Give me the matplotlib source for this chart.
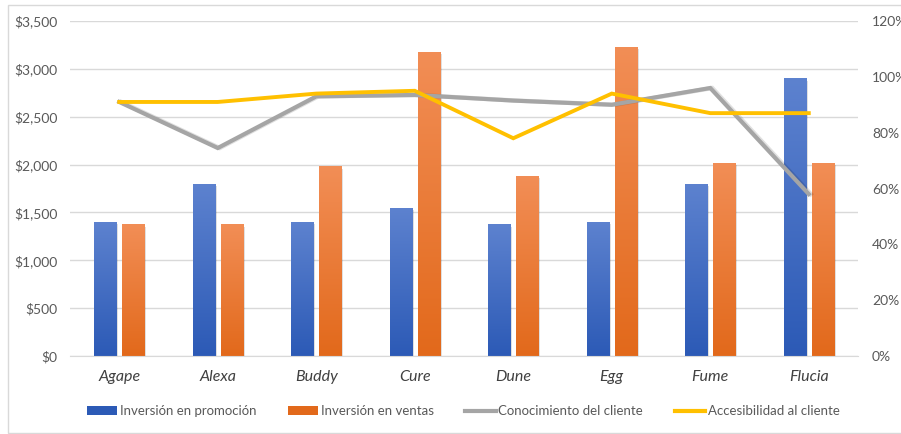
import numpy as np
import matplotlib
matplotlib.use("Agg")
from matplotlib import pyplot as plt
from matplotlib.colors import LinearSegmentedColormap
from matplotlib.lines import Line2D
from matplotlib.patches import Patch

plt.rcParams['font.family'] = ['Lato', 'DejaVu Sans']

categories = ['Agape', 'Alexa', 'Buddy', 'Cure', 'Dune', 'Egg', 'Fume', 'Flucia']
promocion = [1400, 1800, 1400, 1550, 1375, 1400, 1800, 2900]
ventas = [1375, 1375, 1980, 3180, 1880, 3230, 2020, 2020]
conocimiento = [0.91, 0.745, 0.93, 0.935, 0.915, 0.90, 0.96, 0.58]
accesibilidad = [0.91, 0.91, 0.94, 0.95, 0.78, 0.94, 0.87, 0.87]

left_ticks = [0, 500, 1000, 1500, 2000, 2500, 3000, 3500]
right_ticks = [0, 0.2, 0.4, 0.6, 0.8, 1.0, 1.2]

BLUE_TOP, BLUE_BOT = '#5d82cf', '#2c5ab6'
ORANGE_TOP, ORANGE_BOT = '#f28e56', '#e2691b'
GRAY = '#a5a5a5'
YELLOW = '#ffc000'
TICK_COLOR = '#595959'
GRID_COLOR = '#d9d9d9'

fig = plt.figure(figsize=(9.01, 4.34), dpi=100)
# chart border, its right edge runs off the picture like in the source
fig.patches.append(plt.Rectangle((0.009, 0.003), 1.0, 0.985, transform=fig.transFigure,
                                 fill=False, edgecolor='#d9d9d9', linewidth=1))
ax = fig.add_axes([0.0777, 0.1797, 0.8746, 0.7719])

x = np.arange(len(categories))
w = 0.225
off = 0.143
bars_p = ax.bar(x - off, promocion, w, color=BLUE_BOT, zorder=2)
bars_v = ax.bar(x + off, ventas, w, color=ORANGE_BOT, zorder=2)

ax.set_xlim(-0.5, len(categories) - 0.5)
ax.set_ylim(0, 3500)

# vertical gradient fill like the spreadsheet bars
grad = np.linspace(1, 0, 256).reshape(-1, 1)
for bars, top, bot in [(bars_p, BLUE_TOP, BLUE_BOT), (bars_v, ORANGE_TOP, ORANGE_BOT)]:
    cmap = LinearSegmentedColormap.from_list('g', [bot, top])
    for b in bars:
        bx, by = b.get_x(), b.get_y()
        bw, bh = b.get_width(), b.get_height()
        # soft shadow
        ax.bar(bx + bw / 2 + 0.02, bh, bw, bottom=-25, color='#000000', alpha=0.12, zorder=1.5)
        im = ax.imshow(grad, extent=[bx, bx + bw, by, by + bh], aspect='auto',
                       cmap=cmap, vmin=0, vmax=1, zorder=2.1)
        im.set_clip_path(b)

ax.set_xlim(-0.5, len(categories) - 0.5)
ax.set_ylim(0, 3500)
ax.set_yticks(left_ticks)
ax.set_yticklabels([f'${v:,}' for v in left_ticks])
ax.set_xticks(x)
ax.set_xticklabels(categories, fontstyle='italic', fontsize=11.5, color='#404040')
ax.tick_params(axis='y', length=0, pad=9, labelsize=10, labelcolor=TICK_COLOR)
ax.tick_params(axis='x', length=0, pad=10)
ax.grid(axis='y', color=GRID_COLOR, linewidth=1, zorder=0)
ax.set_axisbelow(True)
for s in ['top', 'left', 'right']:
    ax.spines[s].set_visible(False)
ax.spines['bottom'].set_color(GRID_COLOR)

ax2 = ax.twinx()
ax2.plot(x + 0.02, conocimiento, color='#000000', alpha=0.12, linewidth=3.2, zorder=1,
         solid_joinstyle='miter')
ax2.plot(x, conocimiento, color=GRAY, linewidth=3.0, zorder=2, solid_joinstyle='miter')
ax2.plot(x, accesibilidad, color=YELLOW, linewidth=2.8, zorder=3, solid_joinstyle='miter')
ax2.set_ylim(0, 1.2)
ax2.set_yticks(right_ticks)
ax2.set_yticklabels([f'{int(round(v * 100))}%' for v in right_ticks])
ax2.tick_params(axis='y', length=0, pad=10, labelsize=10, labelcolor=TICK_COLOR)
for s in ax2.spines.values():
    s.set_visible(False)

handles = [
    Patch(facecolor=BLUE_BOT, edgecolor='none'),
    Patch(facecolor=ORANGE_BOT, edgecolor='none'),
    Line2D([0], [0], color=GRAY, linewidth=3),
    Line2D([0], [0], color=YELLOW, linewidth=3),
]
labels = ['Inversión en promoción', 'Inversión en ventas',
          'Conocimiento del cliente', 'Accesibilidad al cliente']
leg = fig.legend(handles, labels, loc='center', bbox_to_anchor=(0.514, 0.053), ncol=4,
                 frameon=False, fontsize=9.5, handlelength=2.3, handleheight=0.6,
                 handletextpad=0.2, columnspacing=2.4)
for t in leg.get_texts():
    t.set_color(TICK_COLOR)

fig.savefig('out.png', dpi=100)
